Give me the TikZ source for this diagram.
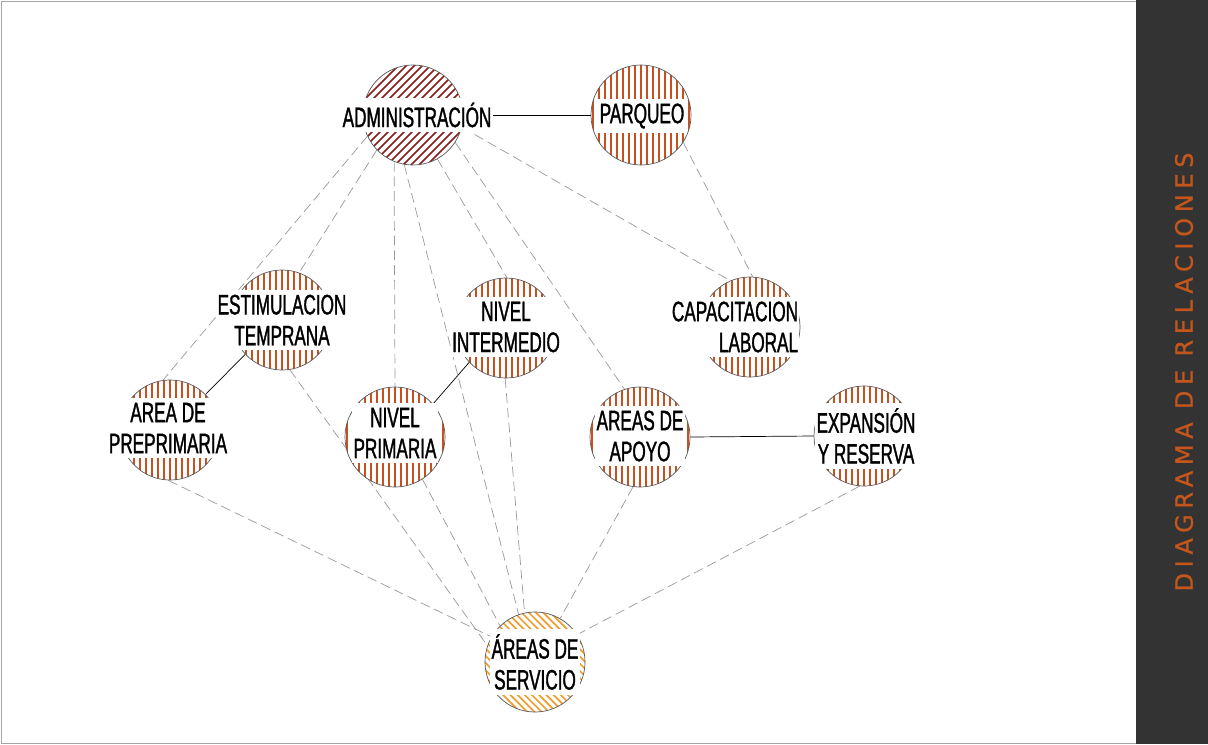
\documentclass[tikz,border=0pt]{standalone}
\usepackage{fontspec}
\setmainfont[FakeStretch=0.61, FakeBold=1.2]{Liberation Sans}
\newfontfamily\bandfont[LetterSpace=24, FakeBold=0.8]{DejaVu Sans}
\usepackage{tikz}
\usetikzlibrary{backgrounds}
\definecolor{hatchred}{HTML}{C8501E}
\definecolor{hatchwine}{HTML}{8B1C1C}
\definecolor{hatchgold}{HTML}{F0A030}
\definecolor{bandgray}{HTML}{333333}
\definecolor{bandorange}{HTML}{C4561C}

\begin{document}
\begin{tikzpicture}[x=0.025cm, y=-0.025cm,
  every node/.style={font=\fontsize{20}{22}\selectfont},
  vlines/.style={path picture={
    \foreach \k in {-8,...,8}
      \fill[#1] ([xshift=\k*0.15cm-0.025cm]path picture bounding box.south)
        rectangle ([xshift=\k*0.15cm+0.025cm]path picture bounding box.north);}},
  rlines/.style={path picture={
    \foreach \k in {-12,...,12}
      \draw[#1, line width=1.2pt] ([xshift=\k*0.2cm-1.3cm, yshift=-1.3cm]path picture bounding box.center)
        -- ++(2.6cm,2.6cm);}},
  llines/.style={path picture={
    \foreach \k in {-12,...,12}
      \draw[#1, line width=1.2pt] ([xshift=\k*0.18cm-1.3cm, yshift=1.3cm]path picture bounding box.center)
        -- ++(2.6cm,-2.6cm);}},
  area/.style={circle, draw=black!65, line width=0.5pt, fill=white, minimum size=2.5cm, inner sep=0pt},
  tag/.style={fill=white, inner xsep=1pt, inner ysep=3.5pt, align=center},
  link/.style={draw=black!40, line width=0.5pt, dash pattern=on 7pt off 3.5pt},
  tie/.style={draw=black, line width=0.5pt}]
\useasboundingbox (0,0) rectangle (1208,744);
\draw[black!35, line width=0.7pt] (1,1) rectangle (1207,743);
\fill[bandgray] (1136,0) rectangle (1208,744);
\node[rotate=90, text=bandorange, font=\bandfont\fontsize{17}{17}\selectfont] (title) at (1184,372) {DIAGRAMA DE RELACIONES};

\node[area, rlines=hatchwine] (adm) at (413,115) {};
\node[area, vlines=hatchred] (parq) at (641,115) {};
\node[area, vlines=hatchred] (estim) at (282,320) {};
\node[area, vlines=hatchred] (inter) at (506,328) {};
\node[area, vlines=hatchred] (capac) at (750,327) {};
\node[area, vlines=hatchred] (prep) at (170,430) {};
\node[area, vlines=hatchred] (prim) at (395,437) {};
\node[area, vlines=hatchred] (apoyo) at (640,437) {};
\node[area, vlines=hatchred] (expan) at (864,436) {};
\node[area, llines=hatchgold] (serv) at (535,662) {};

\node[tag] (admtxt) at (417,115) {ADMINISTRACIÓN};
\node[tag] (parqtxt) at (642,116) {PARQUEO};
\node[tag] (estimtxt) at (282,320) {ESTIMULACION\\TEMPRANA};
\node[tag] (intertxt) at (506,327) {NIVEL\\INTERMEDIO};
\node[tag, align=right] (capactxt) at (735,327) {CAPACITACION\\LABORAL};
\node[tag] (preptxt) at (168,428) {AREA DE\\PREPRIMARIA};
\node[tag] (primtxt) at (395,433) {NIVEL\\PRIMARIA};
\node[tag] (apoyotxt) at (640,436) {AREAS DE\\APOYO};
\node[tag] (expantxt) at (866,436) {EXPANSIÓN\\Y RESERVA};
\node[tag] (servtxt) at (535,662) {ÁREAS DE\\SERVICIO};

\begin{scope}[on background layer]
\draw[tie] (adm.east) -- (parq.west);
\draw[tie] (estim.223) -- (prep.45);
\draw[tie] (inter.223) -- (prim.41);
\draw[tie] (apoyo.east) -- (expan.west);
\draw[link] (adm.205) -- (prep.98);
\draw[link] (adm.224) -- (estim.70);
\draw[link] (adm.248) -- (prim.north);
\draw[link] (adm.260) -- (serv.109);
\draw[link] (adm.299) -- (inter.89);
\draw[link] (adm.327) -- (apoyo.108);
\draw[link] (adm.346) -- (capac.113);
\draw[link] (parq.327) -- (capac.87);
\draw[link] (prep.268) -- (serv.150);
\draw[link] (estim.279) -- (serv.161);
\draw[link] (prim.303) -- (serv.134);
\draw[link] (inter.269) -- (serv.102);
\draw[link] (apoyo.262) -- (serv.60);
\draw[link] (expan.265) -- (serv.33);
\end{scope}
\end{tikzpicture}
\end{document}
